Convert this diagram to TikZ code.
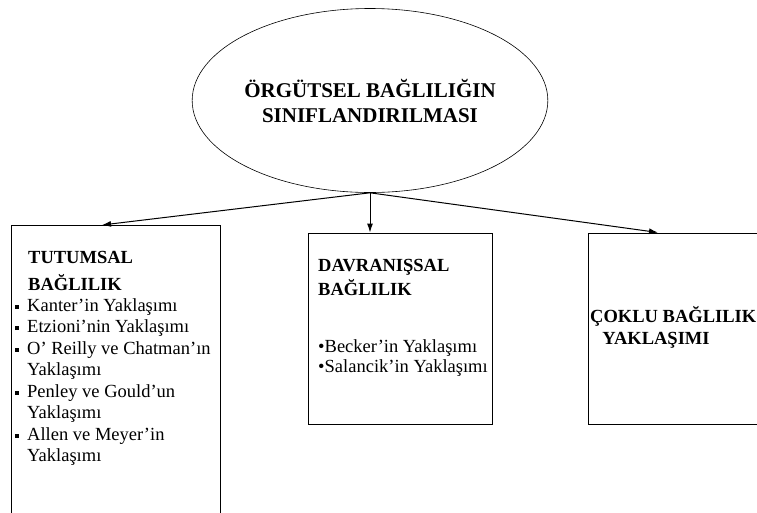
\documentclass[tikz,border=0pt]{standalone}
\usepackage{fontspec}
\setmainfont{Liberation Serif}
\usetikzlibrary{shapes.geometric,arrows.meta,positioning,calc}
\newcommand{\kare}{\makebox[12pt][l]{\rule[2.5pt]{3.5pt}{4pt}}}
\newcommand{\bosluk}{\hspace*{12pt}}
\tikzset{
	kok/.style={ellipse, draw, line width=0.6pt, minimum width=296pt, minimum height=184pt, inner sep=0pt, align=center, font=\bfseries\fontsize{21}{25}\selectfont},
	kutu/.style={rectangle, draw, line width=0.9pt, anchor=north west, inner sep=0pt},
	ok/.style={-{Latex[length=9pt,width=6pt]}, line width=1pt},
	baslik/.style={anchor=base west, inner sep=0pt, font=\bfseries\fontsize{18.5}{21.5}\selectfont},
	satir/.style={anchor=base west, inner sep=0pt, font=\fontsize{18.5}{21.5}\selectfont}
}

\begin{document}
\begin{tikzpicture}[x=1pt, y=-1pt]
	\useasboundingbox (0,0) rectangle (757,512);
	\clip (0,0) rectangle (757,512);
	\node[kok] (orgut) at (370,100.5) {ÖRGÜTSEL BAĞLILIĞIN\\SINIFLANDIRILMASI};
	\node[kutu, minimum width=209pt, minimum height=300pt] (tutum) at (11,225) {};
	\node[kutu, minimum width=184pt, minimum height=191pt] (davran) at (308,232.5) {};
	\node[kutu, minimum width=200pt, minimum height=191pt] (coklu) at (588,232.5) {};
	\draw[ok] (orgut.south) -- ([xshift=91pt]tutum.north west);
	\draw[ok] (orgut.south) -- (orgut.south |- davran.north);
	\draw[ok] (orgut.south) -- ([xshift=70pt]coklu.north west);
	% tutumsal
	\node[baslik] (tutum-b1) at (28,263) {TUTUMSAL};
	\node[baslik] (tutum-b2) at (28,290) {BAĞLILIK};
	\foreach \metin [count=\i] in {\kare Kanter’in Yaklaşımı, \kare Etzioni’nin Yaklaşımı,
		\kare O’ Reilly ve Chatman’ın, \bosluk Yaklaşımı, \kare Penley ve Gould’un,
		\bosluk Yaklaşımı, \kare Allen ve Meyer’in, \bosluk Yaklaşımı}
		\node[satir] (tutum-\i) at (15,{289.5+21.5*\i}) {\metin};
	% davranissal
	\node[baslik] (davran-b1) at (318,271) {DAVRANIŞSAL};
	\node[baslik] (davran-b2) at (318,295) {BAĞLILIK};
	\node[satir] (davran-1) at (318,352) {•Becker’in Yaklaşımı};
	\node[satir] (davran-2) at (318,372) {•Salancik’in Yaklaşımı};
	% coklu
	\node[baslik] (coklu-b1) at (590,322) {ÇOKLU BAĞLILIK};
	\node[baslik, anchor=base] (coklu-b2) at (656,344) {YAKLAŞIMI};
\end{tikzpicture}
\end{document}
